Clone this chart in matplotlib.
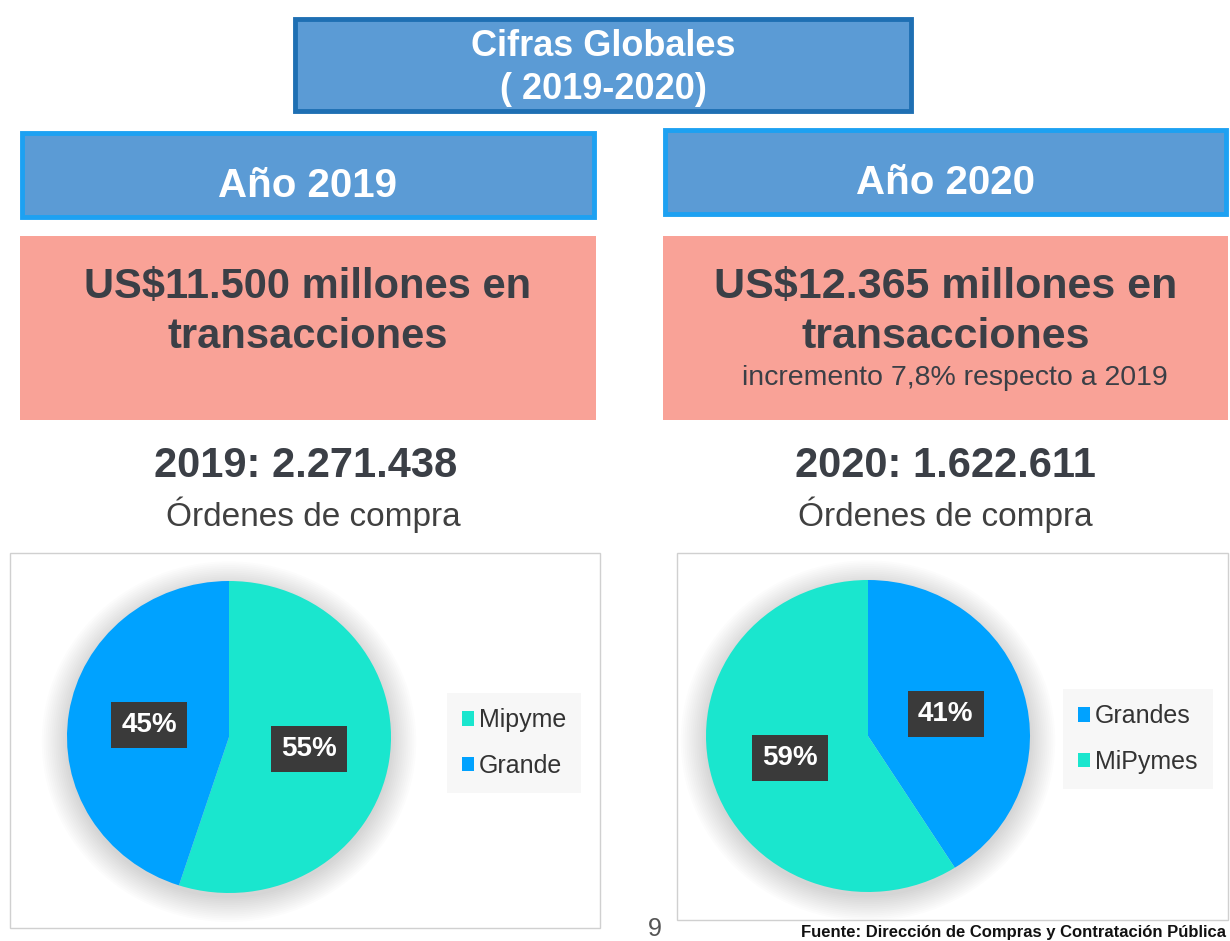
import matplotlib.pyplot as plt
from matplotlib.patches import Rectangle, Ellipse

plt.rcParams["font.family"] = ["Liberation Sans", "DejaVu Sans"]

# data
title = "Cifras Globales\n( 2019-2020)"
years = ["2019", "2020"]
amounts = ["US$11.500 millones en\ntransacciones", "US$12.365 millones en\ntransacciones"]
growth_note = "incremento 7,8% respecto a 2019"
orders = ["2.271.438", "1.622.611"]
labels_2019 = ["Mipyme", "Grande"]
shares_2019 = [55, 45]
labels_2020 = ["Grandes", "MiPymes"]
shares_2020 = [41, 59]
page_no = "9"
source = "Fuente: Dirección de Compras y Contratación Pública"

TEAL = "#1AE6CE"
BLUE = "#00A2FF"
DARK = "#3B3F46"
W, H = 1230, 941

fig = plt.figure(figsize=(W / 100, H / 100), dpi=100)
bg = fig.add_axes([0, 0, 1, 1])
bg.set_xlim(0, W)
bg.set_ylim(H, 0)
bg.axis("off")


def box(x0, y0, x1, y1, fc, ec=None, lw=0):
    bg.add_patch(Rectangle((x0, y0), x1 - x0, y1 - y0, fc=fc,
                           ec=ec if ec else "none", lw=lw))


# title
box(295, 19, 911, 111, "#5B9BD5", "#1E6FB3", 3.5)
bg.text(603, 68, title, ha="center", va="center", color="white",
        fontsize=26, fontweight="bold", linespacing=1.3)

cols = [(20, 596), (663, 1228)]
amount_sizes = [30, 31]
for i, (x0, x1) in enumerate(cols):
    cx = (x0 + x1) / 2
    hy = 133 if i == 0 else 130
    box(x0 + 2, hy, x1 - 2, hy + 84, "#5B9BD5", "#1DA1F2", 3.5)
    bg.text(cx, hy + 53, "Año " + years[i], ha="center", va="center",
            color="white", fontsize=29, fontweight="bold")
    box(x0, 236, x1, 420, "#F9A297")
    bg.text(cx, 312, amounts[i], ha="center", va="center", color=DARK,
            fontsize=amount_sizes[i], fontweight="bold", linespacing=1.35)
    bg.text((x0 + x1) / 2 + (-2 if i == 0 else 0), 466,
            years[i] + ": " + orders[i], ha="center", va="center",
            color=DARK, fontsize=30, fontweight="bold")
    bg.text(cx + (5 if i == 0 else 0), 515, "Órdenes de compra",
            ha="center", va="center", color="#404040", fontsize=24)

bg.text(955, 378, growth_note, ha="center", va="center", color=DARK,
        fontsize=20.5)

# pie panels
box(10, 553, 600, 928, "white", "#D0D0D0", 1)
box(677, 553, 1228, 920, "white", "#D0D0D0", 1)


def draw_pie(cx, cy, shares, names, colors, leg_x, leg_y):
    rx, ry = 162, 156
    ax = fig.add_axes([(cx - 1.25 * rx) / W, (H - cy - 1.25 * ry) / H,
                       2.5 * rx / W, 2.5 * ry / H])
    for k in range(14):
        s = 1.0 + 0.012 * k
        ax.add_patch(Ellipse((0, -0.03), 2 * s, 2 * s, fc="#000000",
                             alpha=0.012, ec="none", zorder=0))
    wedges, _, pcts = ax.pie(shares, colors=colors, startangle=90,
                             counterclock=False,
                             autopct=lambda p: f"{round(p)}%",
                             pctdistance=0.5,
                             wedgeprops=dict(linewidth=0),
                             textprops=dict(color="white", fontsize=20,
                                            fontweight="bold"))
    for t in pcts:
        t.set_bbox(dict(boxstyle="square,pad=0.36", fc="#3A3A3A", ec="none"))
    ax.set_aspect("auto")
    ax.set_xlim(-1.25, 1.25)
    ax.set_ylim(-1.25, 1.25)
    leg = ax.legend(wedges, names, loc="center left",
                    bbox_to_anchor=(leg_x / W, 1 - leg_y / H),
                    bbox_transform=fig.transFigure, frameon=True,
                    fontsize=18, handlelength=0.5, handleheight=0.5,
                    handletextpad=0.2, labelspacing=0.85,
                    borderpad=0.6, fancybox=False)
    leg.get_frame().set_facecolor("#F5F5F5")
    leg.get_frame().set_edgecolor("none")
    for txt in leg.get_texts():
        txt.set_color("#333333")


draw_pie(229, 737, shares_2019, labels_2019, [TEAL, BLUE], 434, 743)
draw_pie(868, 736, shares_2020, labels_2020, [BLUE, TEAL], 1050, 739)

bg.text(655, 929, page_no, ha="center", va="center", color="#555555",
        fontsize=18)
bg.text(1226, 925, source, ha="right", va="top", color="#111111",
        fontsize=12, fontweight="bold")

fig.savefig("out.png", dpi=100)
